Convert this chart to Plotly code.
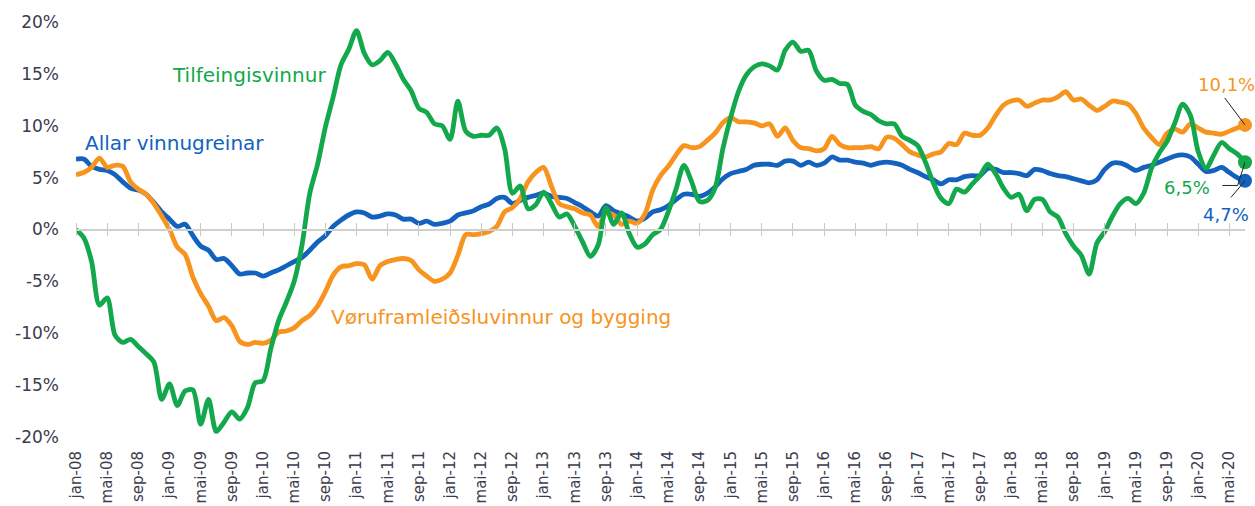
import plotly.graph_objects as go

# Mánaðir: jan-08 .. jul-20
mnd = ['jan', 'feb', 'mar', 'apr', 'mai', 'jun', 'jul', 'aug', 'sep', 'okt', 'nov', 'des']
labels = [f'{m}-{y:02d}' for y in range(8, 21) for m in mnd][:151]
idx = list(range(len(labels)))

# Allar vinnugreinar (blátt)
allar = [
    6.8, 6.8, 6.1, 5.8, 5.7, 5.3, 4.6, 4.0, 3.8, 3.4,
    2.6, 1.7, 1.0, 0.3, 0.5, -0.6, -1.6, -2.0, -2.9, -2.8,
    -3.5, -4.3, -4.2, -4.2, -4.5, -4.2, -3.9, -3.5, -3.1, -2.7,
    -2.0, -1.2, -0.6, 0.3, 0.9, 1.4, 1.7, 1.6, 1.2, 1.3,
    1.5, 1.4, 1.0, 1.0, 0.6, 0.8, 0.5, 0.6, 0.8, 1.4,
    1.6, 1.8, 2.2, 2.45, 3.0, 3.1, 2.5, 2.8, 3.1, 3.3,
    3.5, 3.2, 3.1, 3.0, 2.6, 2.2, 1.7, 1.3, 2.3, 1.8,
    1.5, 1.2, 0.8, 1.1, 1.7, 1.9, 2.3, 2.9, 3.4, 3.4,
    3.2, 3.5, 4.1, 4.9, 5.4, 5.6, 5.8, 6.2, 6.3, 6.3,
    6.2, 6.6, 6.6, 6.2, 6.5, 6.2, 6.4, 7.0, 6.7, 6.7,
    6.5, 6.4, 6.2, 6.4, 6.5, 6.4, 6.2, 5.8, 5.5, 5.1,
    4.8, 4.4, 4.8, 4.8, 5.1, 5.2, 5.2, 5.9, 5.8, 5.5,
    5.5, 5.4, 5.2, 5.8, 5.7, 5.4, 5.2, 5.1, 4.9, 4.7,
    4.5, 4.8, 5.8, 6.4, 6.4, 6.1, 5.7, 6.0, 6.2, 6.5,
    6.8, 7.1, 7.2, 7.0, 6.3, 5.6, 5.7, 6.0, 5.5, 5.0,
    4.7,
]

# Tilfeingisvinnur (grønt)
tilfeingi = [
    0.0, -0.8, -3.1, -7.3, -6.6, -10.2, -10.9, -10.6, -11.3, -12.0,
    -12.8, -16.4, -14.9, -17.0, -15.6, -15.5, -18.8, -16.4, -19.5, -18.6,
    -17.6, -18.3, -17.2, -14.8, -14.6, -11.5, -8.8, -7.0, -5.0, -1.5,
    3.5, 6.3, 9.9, 12.8, 15.9, 17.4, 19.2, 17.0, 15.9, 16.3,
    17.1, 16.0, 14.5, 13.4, 11.7, 11.3, 10.2, 10.0, 8.7, 12.4,
    9.5, 9.0, 9.1, 9.1, 9.8, 7.8, 3.5, 4.2, 2.0, 2.4,
    3.6, 2.5, 1.2, 1.5, 0.3, -1.2, -2.6, -1.5, 2.1, 0.5,
    1.6, -0.4, -1.7, -1.4, -0.5, 0.0, 1.7, 3.9, 6.2, 4.6,
    2.7, 2.8, 4.0, 7.8, 10.8, 13.3, 14.9, 15.7, 16.0, 15.8,
    15.4, 17.3, 18.1, 17.2, 17.3, 15.3, 14.4, 14.5, 14.1, 14.0,
    12.0, 11.4, 11.1, 10.5, 10.2, 10.2, 9.0, 8.6, 8.1, 6.5,
    4.5, 3.0, 2.5, 3.9, 3.6, 4.4, 5.2, 6.3, 5.4, 4.0,
    3.1, 3.4, 1.8, 2.9, 2.9, 1.7, 1.2, -0.4, -1.6, -2.5,
    -4.3, -1.3, -0.2, 1.3, 2.5, 3.0, 2.5, 3.5, 5.9, 7.4,
    8.5, 10.3, 12.1, 11.0, 7.5, 5.9, 7.2, 8.4, 7.8, 7.3,
    6.5,
]

# Vøruframleiðsluvinnur og bygging (appelsin)
voru = [
    5.3, 5.5, 6.0, 6.9, 6.0, 6.2, 6.1, 4.6, 3.9, 3.4,
    2.5, 1.3, 0.0, -1.7, -2.4, -4.6, -6.2, -7.4, -8.8, -8.5,
    -9.3, -10.8, -11.1, -10.9, -11.0, -10.7, -9.9, -9.8, -9.5, -8.8,
    -8.3, -7.4, -6.0, -4.4, -3.6, -3.5, -3.3, -3.4, -4.8, -3.5,
    -3.1, -2.9, -2.8, -3.0, -3.9, -4.5, -5.0, -4.8, -4.2, -2.5,
    -0.5, -0.5, -0.4, -0.2, 0.3, 1.7, 2.1, 3.0, 4.6, 5.5,
    6.0, 4.2, 2.5, 2.2, 2.0, 1.6, 1.4, 0.3, 1.6, 1.4,
    0.5, 0.8, 0.6, 1.5, 3.8, 5.2, 6.1, 7.2, 8.1, 7.9,
    8.0, 8.6, 9.3, 10.3, 10.8, 10.4, 10.4, 10.3, 10.0, 10.2,
    9.0, 9.8, 8.6, 7.9, 7.8, 7.6, 7.8, 9.0, 8.2, 7.9,
    7.9, 7.9, 8.0, 7.8, 8.9, 8.8, 8.2, 7.5, 7.2, 7.0,
    7.3, 7.5, 8.3, 8.2, 9.3, 9.1, 9.1, 9.8, 11.0, 12.0,
    12.4, 12.5, 11.9, 12.2, 12.5, 12.5, 12.8, 13.3, 12.5, 12.6,
    12.0, 11.5, 11.9, 12.4, 12.3, 12.1, 11.2, 9.8, 8.9, 8.2,
    9.3, 9.7, 9.4, 10.2, 9.8, 9.4, 9.3, 9.2, 9.5, 9.8,
    10.1,
]

BLUE = '#1262BE'
GREEN = '#12A84B'
ORANGE = '#F7941E'
TXT = '#3c3c4e'
FONT = 'DejaVu Sans'

fig = go.Figure()

for vals, col in [(allar, BLUE), (voru, ORANGE), (tilfeingi, GREEN)]:
    fig.add_trace(go.Scatter(
        x=idx, y=vals, mode='lines',
        line=dict(color=col, width=4.8, shape='spline', smoothing=0.8),
        hoverinfo='skip', showlegend=False,
    ))

for vals, col in [(voru, ORANGE), (tilfeingi, GREEN), (allar, BLUE)]:
    fig.add_trace(go.Scatter(
        x=[idx[-1]], y=[vals[-1]], mode='markers',
        marker=dict(color=col, size=14), cliponaxis=False,
        hoverinfo='skip', showlegend=False,
    ))

# ósjónligar rekkjur, so at 0-ásin við strikum verður teknaður
for ax in ['x2', 'x3']:
    fig.add_trace(go.Scatter(
        x=idx, y=allar, xaxis=ax, mode='lines', opacity=0,
        hoverinfo='skip', showlegend=False,
    ))

def pct(v):
    return f'{v:.1f}'.replace('.', ',') + '%'

last = idx[-1]
annots = [
    dict(x=12.1, y=14.9, text='Tilfeingisvinnur', color=GREEN, size=20, xanchor='left'),
    dict(x=0.95, y=8.35, text='Allar vinnugreinar', color=BLUE, size=20, xanchor='left'),
    dict(x=32.4, y=-8.45, text='Vøruframleiðsluvinnur og bygging', color=ORANGE, size=20, xanchor='left'),
    dict(x=147.6, y=14.0, text=pct(voru[-1]), color=ORANGE, size=18, xanchor='center'),
    dict(x=142.6, y=4.1, text=pct(tilfeingi[-1]), color=GREEN, size=18, xanchor='center'),
    dict(x=147.5, y=1.45, text=pct(allar[-1]), color=BLUE, size=18, xanchor='center'),
]
for a in annots:
    fig.add_annotation(
        x=a['x'], y=a['y'], xref='x', yref='y', text=a['text'], showarrow=False,
        xanchor=a['xanchor'], yanchor='middle',
        font=dict(family=FONT, size=a['size'], color=a['color']),
    )

# leiðilinjur til endapunktarnar
lead = dict(color='#222222', width=1)
fig.add_shape(type='line', xref='x', yref='y', x0=147.4, y0=voru[-1] + 2.6,
              x1=last, y1=voru[-1], line=lead)
fig.add_shape(type='path', xref='x', yref='y',
              path=f'M 147.1 {tilfeingi[-1] - 2.25} L 149.05 {tilfeingi[-1] - 2.25} L {last} {tilfeingi[-1]}',
              line=lead)
fig.add_shape(type='line', xref='x', yref='y', x0=148.2, y0=allar[-1] - 1.6,
              x1=last, y1=allar[-1], line=lead)

tickv = idx[::4]
tickt = labels[::4]
ytv = [-20, -15, -10, -5, 0, 5, 10, 15, 20]
ytt = [f'{v}%' for v in ytv]

zero_axis = dict(
    overlaying='x', anchor='free', position=0.5, range=[0, last],
    tickmode='array', tickvals=tickv, ticks='outside', ticklen=6,
    tickcolor='#c8c8c8', tickwidth=1, showticklabels=False,
    showline=True, linecolor='#d0d0d0', linewidth=1.5,
    showgrid=False, zeroline=False,
)

fig.update_layout(
    width=1255, height=506,
    margin=dict(l=76, r=10, t=12, b=59),
    paper_bgcolor='white', plot_bgcolor='white',
    font=dict(family=FONT, color=TXT),
    showlegend=False,
    xaxis=dict(
        range=[0, last], tickmode='array', tickvals=tickv, ticktext=tickt,
        tickangle=-90, tickfont=dict(size=15, color=TXT), ticks='',
        showline=False, showgrid=False, zeroline=False, automargin=False,
    ),
    xaxis2=dict(zero_axis, side='bottom'),
    xaxis3=dict(zero_axis, side='top'),
    yaxis=dict(
        range=[-21, 21], tickmode='array', tickvals=ytv, ticktext=ytt,
        tickfont=dict(size=17, color=TXT), ticks='', ticklabelstandoff=16,
        showline=False, showgrid=False, zeroline=False, automargin=False,
    ),
)

fig.write_html('out.html', config={'displayModeBar': False},
               post_script="document.body.style.margin='0';")
